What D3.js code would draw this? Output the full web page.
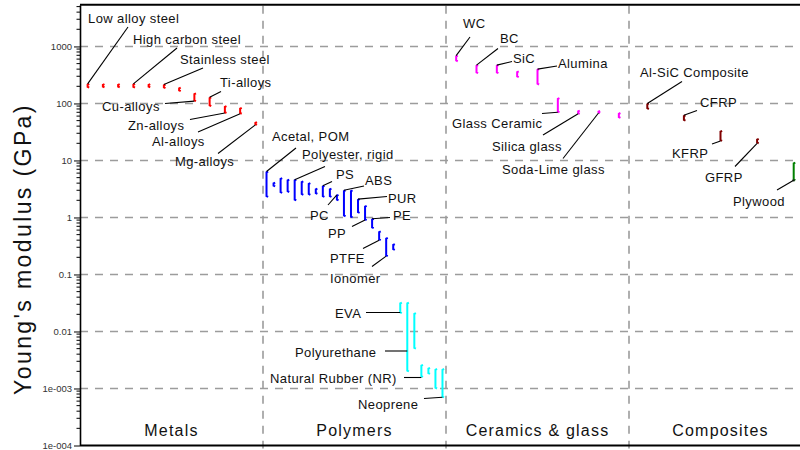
<!DOCTYPE html>
<html><head><meta charset="utf-8">
<script src="https://cdn.jsdelivr.net/npm/d3@7"></script>
<style>body{margin:0;background:#fff} svg{display:block;font-family:"Liberation Sans",Arial,sans-serif}</style>
</head><body><svg id="c" width="800" height="450"></svg>
<script>
// ---------------- data ----------------
const categories = ["Metals", "Polymers", "Ceramics & glass", "Composites"];

const yTickValues = [1e-4, 1e-3, 1e-2, 1e-1, 1, 10, 100, 1000];
const yTickLabels = ["1e-004", "1e-003", "0.01", "0.1", "1", "10", "100", "1000"];

const metalNames = ["Low alloy steel", "", "", "High carbon steel", "", "Stainless steel", "", "Cu-alloys", "Ti-alloys", "Zn-alloys", "Al-alloys", "Mg-alloys"];
const metalMin   = [190, 192, 192, 190, 192, 185, 165, 110, 90, 68, 66, 42];
const metalMax   = [220, 218, 218, 220, 218, 215, 190, 150, 128, 90, 84, 47];

const polymerNames = ["Acetal, POM", "", "", "", "Polyester, rigid", "", "", "", "PS", "", "PC", "ABS", "", "PUR", "PP", "PE", "PTFE", "Ionomer", ""];
const polymerMin   = [2.3, 3.5, 2.7, 2.8, 2.0, 2.5, 2.5, 2.6, 2.3, 2.3, 2.0, 1.05, 1.0, 1.2, 0.9, 0.65, 0.4, 0.21, 0.27];
const polymerMax   = [6.4, 4.1, 4.9, 4.6, 4.6, 4.3, 4.0, 3.2, 3.6, 3.2, 2.5, 3.0, 3.0, 2.1, 1.6, 0.95, 0.57, 0.44, 0.34];

const elastomerNames = ["EVA", "Polyurethane", "", "Natural Rubber (NR)", "", "", "Neoprene"];
const elastomerMin   = [0.021, 0.002, 0.005, 0.0016, 0.0018, 0.001, 0.0007];
const elastomerMax   = [0.032, 0.032, 0.021, 0.0026, 0.0023, 0.0022, 0.0022];

const ceramicNames = ["WC", "BC", "SiC", "", "Alumina", "Glass Ceramic", "Silica glass", "Soda-Lime glass", ""];
const ceramicMin   = [550, 340, 340, 290, 215, 70, 66, 68, 56];
const ceramicMax   = [690, 470, 470, 365, 400, 124, 75, 74, 68];

const compositeNames = ["Al-SiC Composite", "CFRP", "KFRP", "GFRP"];
const compositeMin   = [80, 50, 22, 20];
const compositeMax   = [100, 62, 33, 24];

const woodNames = ["Plywood"];
const woodMin   = [4.5];
const woodMax   = [9.2];

// ---------------- layout (annotation placement) ----------------
const labelLayout = {
  "Low alloy steel":   {tx: 88,  ty: 23,  lx: 128, ly: 27,  end: "top"},
  "High carbon steel": {tx: 133, ty: 44,  lx: 177, ly: 48,  end: "top"},
  "Stainless steel":   {tx: 180, ty: 64,  lx: 203, ly: 68,  end: "top"},
  "Ti-alloys":         {tx: 220, ty: 87,  lx: 221, ly: 91.5,end: "top"},
  "Cu-alloys":         {tx: 102, ty: 111, lx: 165, ly: 103.5,end: "bottom"},
  "Zn-alloys":         {tx: 128, ty: 130, lx: 190, ly: 119.5,end: "bottom"},
  "Al-alloys":         {tx: 152, ty: 146, lx: 198, ly: 132, end: "bottom"},
  "Mg-alloys":         {tx: 175, ty: 166, lx: 218, ly: 153.5,end: "bottom"},
  "Acetal, POM":       {tx: 272, ty: 141, lx: 296, ly: 148, end: "top"},
  "Polyester, rigid":  {tx: 302, ty: 159, lx: 325, ly: 166.5,end: "top"},
  "PS":                {tx: 336, ty: 179, lx: 332, ly: 181.5,end: "top"},
  "PC":                {tx: 310, ty: 219.5,lx: 328, ly: 205, end: "top"},
  "ABS":               {tx: 365, ty: 184.5,lx: 364, ly: 186, end: "top"},
  "PUR":               {tx: 388, ty: 203, lx: 387, ly: 196.5,end: "top"},
  "PE":                {tx: 393, ty: 220, lx: 390, ly: 217.5,end: "top"},
  "PP":                {tx: 328, ty: 238, lx: 352, ly: 226.5,end: "bottom"},
  "PTFE":              {tx: 330, ty: 263, lx: 363, ly: 248.5,end: "bottom"},
  "Ionomer":           {tx: 330, ty: 283, lx: 372, ly: 266.5,end: "bottom"},
  "EVA":               {tx: 335, ty: 318, lx: 366, ly: 312.5,end: "side"},
  "Polyurethane":      {tx: 295, ty: 356.5,lx: 385, ly: 351, end: "side"},
  "Natural Rubber (NR)":{tx: 270, ty: 383, lx: 404, ly: 377.5,end: "side"},
  "Neoprene":          {tx: 358, ty: 409, lx: 424, ly: 398.5,end: "bottom"},
  "WC":                {tx: 463, ty: 27.5,lx: 470, ly: 37,  end: "top"},
  "BC":                {tx: 500, ty: 42.5,lx: 498, ly: 48.5,end: "top"},
  "SiC":               {tx: 513, ty: 62.5,lx: 512, ly: 61.5,end: "top"},
  "Alumina":           {tx: 558, ty: 67.5,lx: 557, ly: 66,  end: "top"},
  "Glass Ceramic":     {tx: 452, ty: 127.5,lx: 542, ly: 113.5,end: "bottom"},
  "Silica glass":      {tx: 492, ty: 151, lx: 543, ly: 135, end: "bottom"},
  "Soda-Lime glass":   {tx: 502, ty: 174, lx: 563, ly: 158.5,end: "bottom"},
  "Al-SiC Composite":  {tx: 640, ty: 76.5,lx: 682, ly: 81.5,end: "top"},
  "CFRP":              {tx: 700, ty: 106.5,lx: 697, ly: 110.5,end: "top"},
  "KFRP":              {tx: 672, ty: 157.5,lx: 712, ly: 144, end: "bottom"},
  "GFRP":              {tx: 705, ty: 181.5,lx: 735, ly: 166.5,end: "bottom"},
  "Plywood":           {tx: 733, ty: 206, lx: 777, ly: 190, end: "bottom"}
};

const groups = [
  {cat: 0, names: metalNames, min: metalMin, max: metalMax, color: "#ff0000"},
  {cat: 1, names: polymerNames, min: polymerMin, max: polymerMax, color: "#0000ff"},
  {cat: 1, names: elastomerNames, min: elastomerMin, max: elastomerMax, color: "#00ffff"},
  {cat: 2, names: ceramicNames, min: ceramicMin, max: ceramicMax, color: "#ff00ff"},
  {cat: 3, names: compositeNames, min: compositeMin, max: compositeMax, color: "#800000"},
  {cat: 3, names: woodNames, min: woodMin, max: woodMax, color: "#008000"}
];

// ---------------- chart ----------------
const svg = d3.select("#c");
const plotLeft = 80, plotRight = 800, plotTop = 4.7, plotBottom = 445.5;

const x = d3.scaleLinear().domain([0, categories.length]).range([plotLeft, 812]);
const y = d3.scaleLog().domain([1e-4, 5400]).range([plotBottom, plotTop]);

// gridlines
svg.append("g").selectAll("line").data(yTickValues.filter(v => v > 1e-4)).join("line")
  .attr("x1", plotLeft).attr("x2", plotRight)
  .attr("y1", d => y(d)).attr("y2", d => y(d))
  .attr("stroke", "#9c9c9c").attr("stroke-width", 1.6).attr("stroke-dasharray", "8,7");

svg.append("g").selectAll("line").data(d3.range(1, categories.length)).join("line")
  .attr("x1", d => x(d)).attr("x2", d => x(d))
  .attr("y1", plotTop + 1).attr("y2", plotBottom + 3)
  .attr("stroke", "#9c9c9c").attr("stroke-width", 1.6).attr("stroke-dasharray", "8,7");

// frame
svg.append("line").attr("x1", plotLeft).attr("x2", plotRight).attr("y1", plotTop).attr("y2", plotTop)
  .attr("stroke", "#000").attr("stroke-width", 2);
svg.append("line").attr("x1", plotLeft).attr("x2", plotRight).attr("y1", plotBottom).attr("y2", plotBottom)
  .attr("stroke", "#000").attr("stroke-width", 2);

// y axis
const yAxis = d3.axisLeft(y).tickValues(yTickValues)
  .tickFormat((d, i) => yTickLabels[i]).tickSize(6).tickSizeOuter(0).tickPadding(2);
const ga = svg.append("g").attr("transform", `translate(${plotLeft},0)`).call(yAxis);
ga.select(".domain").attr("stroke", "#000").attr("stroke-width", 1.6);
ga.selectAll(".tick line").attr("stroke", "#000");
ga.selectAll(".tick text").attr("font-size", "9.5px").attr("fill", "#333")
  .attr("font-family", "'Liberation Sans',Arial,sans-serif");

const minor = y.ticks().filter(v => !yTickValues.some(t => Math.abs(Math.log10(t) - Math.log10(v)) < 1e-6));
svg.append("g").selectAll("line").data(minor).join("line")
  .attr("x1", plotLeft - 3.5).attr("x2", plotLeft)
  .attr("y1", d => y(d)).attr("y2", d => y(d))
  .attr("stroke", "#000").attr("stroke-width", 1);

// category labels
svg.append("g").selectAll("text").data(categories).join("text")
  .attr("x", (d, i) => x(i + 0.5)).attr("y", 436)
  .attr("text-anchor", "middle").attr("font-size", "16px").attr("letter-spacing", "1.2px")
  .attr("fill", "#111").text(d => d);

// y title
svg.append("text").attr("transform", "translate(31,249) rotate(-90)")
  .attr("text-anchor", "middle").attr("font-size", "23px").attr("letter-spacing", "2.4px")
  .attr("fill", "#111").text("Young's modulus  (GPa)");

// materials
const catCounts = categories.map((c, i) => d3.sum(groups.filter(g => g.cat === i), g => g.names.length));
const slotUsed = categories.map(() => 0);
const materials = [];
groups.forEach(g => {
  g.names.forEach((n, k) => {
    const slot = slotUsed[g.cat]++;
    materials.push({name: n, min: g.min[k], max: g.max[k], color: g.color,
      cx: x(g.cat + (slot + 0.5) / catCounts[g.cat])});
  });
});

const mg = svg.append("g");
materials.forEach(m => {
  const yt = y(m.max), yb = y(m.min);
  mg.append("path")
    .attr("d", `M${m.cx + 1.6},${yt} L${m.cx},${yt + 0.8} L${m.cx},${yb - 0.8} L${m.cx + 1.6},${yb}`)
    .attr("fill", "none").attr("stroke", m.color).attr("stroke-width", 2);
});
materials.filter(m => m.name === "Plywood").forEach(m => {
  mg.append("circle").attr("cx", m.cx).attr("cy", y(m.min)).attr("r", 1.3).attr("fill", "#224422");
});

// annotations
const ag = svg.append("g");
materials.filter(m => m.name && labelLayout[m.name]).forEach(m => {
  const L = labelLayout[m.name];
  const ey = L.end === "top" ? y(m.max) : L.end === "bottom" ? y(m.min) : L.ly;
  ag.append("line").attr("x1", L.lx).attr("y1", L.ly).attr("x2", m.cx).attr("y2", ey)
    .attr("stroke", "#000").attr("stroke-width", 1.1);
  ag.append("text").attr("x", L.tx).attr("y", L.ty)
    .attr("font-size", "13px").attr("letter-spacing", "0.4px").attr("fill", "#111")
    .text(m.name);
});
</script></body></html>
